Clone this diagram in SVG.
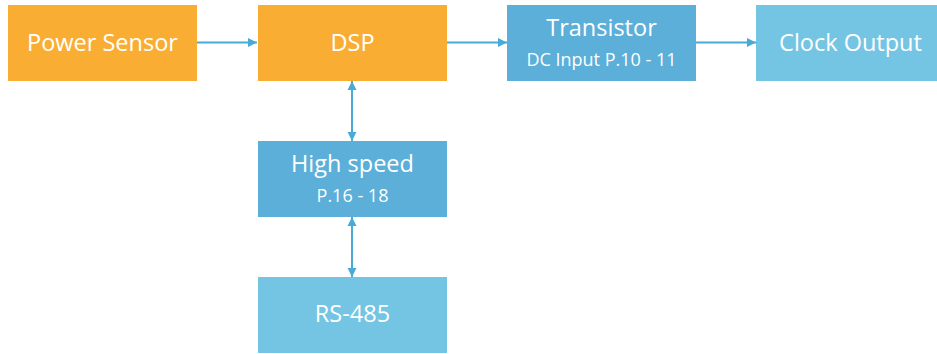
<svg xmlns="http://www.w3.org/2000/svg" width="937" height="354" viewBox="0 0 937 354">
<defs>
<style>
.orange{fill:#F9AE33}
.mid{fill:#5BAFD8}
.light{fill:#74C5E4}
text{fill:#fff;font-family:"Open Sans","Liberation Sans",sans-serif;text-anchor:middle}
.big{font-size:23.5px}
.small{font-size:18px}
.conn{stroke:#4AAAD6;stroke-width:2;fill:none}
</style>
<marker id="ah" viewBox="0 0 10 10" refX="10" refY="5" markerWidth="9" markerHeight="10" markerUnits="userSpaceOnUse" orient="auto-start-reverse">
<path d="M0,0 L10,5 L0,10 Z" fill="#4AAAD6"/>
</marker>
</defs>
<rect width="937" height="354" fill="#fff"/>
<g id="connectors">
<line class="conn" x1="197" y1="42.5" x2="257" y2="42.5" marker-end="url(#ah)"/>
<line class="conn" x1="447" y1="42.5" x2="507" y2="42.5" marker-end="url(#ah)"/>
<line class="conn" x1="696" y1="42.5" x2="756" y2="42.5" marker-end="url(#ah)"/>
<line class="conn" x1="352" y1="81" x2="352" y2="141" marker-start="url(#ah)" marker-end="url(#ah)"/>
<line class="conn" x1="352" y1="217" x2="352" y2="277" marker-start="url(#ah)" marker-end="url(#ah)"/>
</g>
<g id="power-sensor">
<rect class="orange" x="8" y="5" width="189" height="76"/>
<text class="big" x="102.5" y="50.5">Power Sensor</text>
</g>
<g id="dsp">
<rect class="orange" x="258" y="5" width="189" height="76"/>
<text class="big" x="352.5" y="50.5">DSP</text>
</g>
<g id="transistor">
<rect class="mid" x="507" y="5" width="189" height="76"/>
<text class="big" x="601.5" y="36">Transistor</text>
<text class="small" x="601.5" y="65.5">DC Input P.10 - 11</text>
</g>
<g id="clock-output">
<rect class="light" x="756" y="5" width="189" height="76"/>
<text class="big" x="850.5" y="50.5">Clock Output</text>
</g>
<g id="high-speed">
<rect class="mid" x="258" y="141" width="189" height="76"/>
<text class="big" x="352.5" y="172">High speed</text>
<text class="small" x="352.5" y="201.5">P.16 - 18</text>
</g>
<g id="rs485">
<rect class="light" x="258" y="277" width="189" height="76"/>
<text class="big" x="352.5" y="322">RS-485</text>
</g>
</svg>
